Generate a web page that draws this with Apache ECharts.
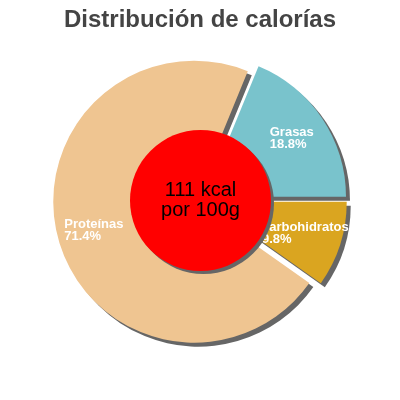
<!DOCTYPE html>
<html>
<head>
<meta charset="utf-8">
<script src="https://cdn.jsdelivr.net/npm/echarts@6/dist/echarts.min.js"></script>
<style>html,body{margin:0;padding:0;background:#fff}#c{width:400px;height:400px}</style>
</head>
<body>
<div id="c"></div>
<script>
var titleText = 'Distribución de calorías';
var categories = ['Grasas', 'Proteínas', 'carbohidratos'];
var percents = [18.8, 71.4, 9.8];
var colors = ['#79c3cc', '#efc591', '#daa520'];
var centerText = ['111 kcal', 'por 100g'];

var chart = echarts.init(document.getElementById('c'), null, {renderer: 'canvas'});
var CX = 200, CY = 200, R = 141;
var sliceData = categories.map(function (n, i) {
  return {name: n, value: percents[i], selected: true, itemStyle: {color: colors[i]}};
});
var labelData = categories.map(function (n, i) {
  return {name: n, value: percents[i], selected: true};
});
chart.setOption({
  animation: false,
  title: {
    text: titleText, left: 'center', top: 3,
    textStyle: {fontFamily: 'Liberation Sans', fontSize: 24, fontWeight: 'bold', color: '#444'}
  },
  series: [
    {
      type: 'pie', center: [CX, CY], radius: [0, R], startAngle: 0, clockwise: false,
      selectedMode: 'multiple', selectedOffset: 6, silent: true,
      label: {show: false}, labelLine: {show: false},
      emphasis: {disabled: true},
      itemStyle: {shadowColor: '#666', shadowOffsetX: 4, shadowOffsetY: 4, shadowBlur: 0, borderWidth: 0},
      data: sliceData
    },
    {
      type: 'pie', center: [CX, CY], radius: [62, R], startAngle: 0, clockwise: false,
      selectedMode: 'multiple', selectedOffset: 6, silent: true, z: 3,
      itemStyle: {color: 'rgba(0,0,0,0)'},
      emphasis: {disabled: true},
      labelLine: {show: false},
      label: {
        show: true, position: 'inside',
        formatter: function (p) { return '{a|' + p.name + '}\n{a|' + p.value.toFixed(1) + '%}'; },
        rich: {a: {fontFamily: 'Liberation Sans', fontSize: 13, lineHeight: 12, color: '#fff', fontWeight: 'bold', align: 'left'}}
      },
      data: labelData
    },
    {
      type: 'pie', center: [CX + 0.5, CY + 0.5], radius: [0, 70.5], silent: true, z: 4,
      emphasis: {disabled: true},
      itemStyle: {color: '#ff0000', shadowColor: '#666', shadowOffsetX: 3, shadowOffsetY: 3, shadowBlur: 0},
      labelLine: {show: false},
      label: {
        show: true, position: 'center',
        formatter: centerText.join('\n'),
        fontFamily: 'Liberation Sans', fontSize: 20, lineHeight: 20, color: '#000'
      },
      data: [{name: 'kcal', value: 1}]
    }
  ]
});
</script>
</body>
</html>
